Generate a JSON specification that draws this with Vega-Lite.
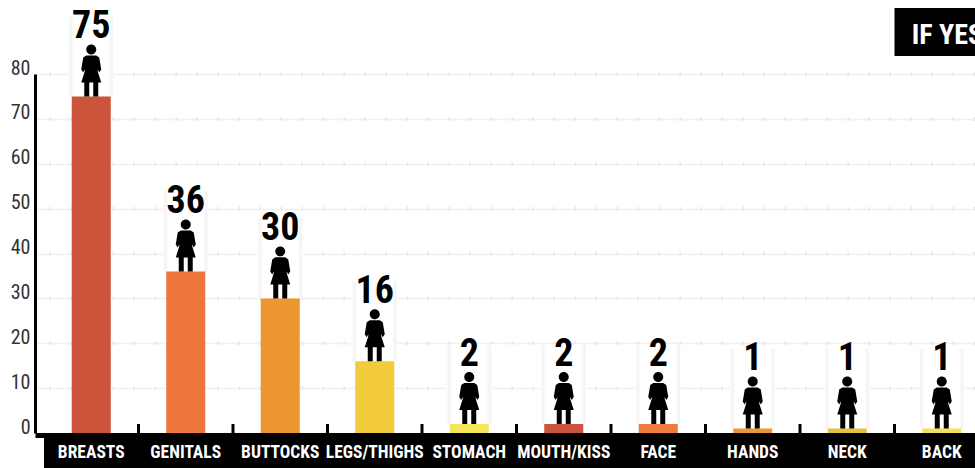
{
"$schema":"https://vega.github.io/schema/vega-lite/v6.json",
"width":940,"height":359,
"autosize":{"type":"none"},
"padding":{"left":35,"top":74,"right":0,"bottom":35},
"background":"white",
"view":{"stroke":null},
"config":{"font":"'Roboto Condensed','Open Sans Condensed','DejaVu Sans Condensed','Liberation Sans',sans-serif"},
"datasets":{
"rows":[
{"area":"BREASTS","count":75},
{"area":"GENITALS","count":36},
{"area":"BUTTOCKS","count":30},
{"area":"LEGS/THIGHS","count":16},
{"area":"STOMACH","count":2},
{"area":"MOUTH/KISS","count":2},
{"area":"FACE","count":2},
{"area":"HANDS","count":1},
{"area":"NECK","count":1},
{"area":"BACK","count":1}],
"grid":[{"count":10},{"count":20},{"count":30},{"count":40},{"count":50},{"count":60},{"count":70},{"count":80}]
},
"layer":[
{"data":{"name":"grid"},
 "mark":{"type":"rule","color":"#e8e8e8","strokeWidth":4,"strokeDash":[1.5,19.5]},
 "encoding":{"y":{"field":"count","type":"quantitative","scale":{"domain":[0,80],"nice":false},
  "axis":{"title":null,"values":[0,10,20,30,40,50,60,70,80],"grid":true,"gridColor":"#f0f0f0","gridWidth":1.5,"ticks":false,"domain":true,"domainColor":"black","domainWidth":3,"labelFontSize":20,"labelColor":"#333333","labelPadding":5,"labelBaseline":"alphabetic","labelFontWeight":"normal"}}}},
{"data":{"name":"rows"},
 "mark":{"type":"tick","orient":"horizontal","size":46,"thickness":80,"yOffset":-40,"fill":{"gradient":"linear","x1":0,"x2":1,"y1":0,"y2":0,"stops":[{"offset":0,"color":"#ffffff"},{"offset":0.05,"color":"#f3f3f3"},{"offset":0.13,"color":"#ffffff"},{"offset":0.87,"color":"#ffffff"},{"offset":0.95,"color":"#f3f3f3"},{"offset":1,"color":"#ffffff"}]},"opacity":1,"stroke":null},
 "encoding":{"x":{"field":"area","type":"nominal"},"y":{"field":"count","type":"quantitative"}}},
{"data":{"name":"rows"},
 "mark":{"type":"bar","width":{"band":0.413}},
 "encoding":{
  "x":{"field":"area","type":"nominal","scale":{"domain":["BREASTS","GENITALS","BUTTOCKS","LEGS/THIGHS","STOMACH","MOUTH/KISS","FACE","HANDS","NECK","BACK"],"range":[0,954],"paddingInner":0,"paddingOuter":0.0476,"align":1},
   "axis":{"title":null,"orient":"bottom","offset":2,"domain":true,"domainColor":"black","domainWidth":5,"ticks":false,"labelAngle":0,"labelAlign":"center","labelColor":"white","labelFontSize":17.5,"labelFontWeight":"bold","labelPadding":8,"labelBaseline":"top","labelLimit":120,"labelOverlap":false,"zindex":1}},
  "y":{"field":"count","type":"quantitative"},
  "color":{"field":"area","type":"nominal","legend":null,"scale":{"domain":["BREASTS","GENITALS","BUTTOCKS","LEGS/THIGHS","STOMACH","MOUTH/KISS","FACE","HANDS","NECK","BACK"],"range":["#CB543A","#EF763B","#ED9631","#F2CB3D","#F5E65A","#CC5540","#EF7B3D","#ED9631","#E3C23F","#F2DF5A"]}}}},
{"data":{"name":"rows"},
 "mark":{"type":"bar","color":"black","width":{"band":1}},
 "encoding":{"x":{"field":"area","type":"nominal"},"y":{"datum":0,"type":"quantitative"},"y2":{"datum":-7.8}}},
{"data":{"name":"rows"},
 "transform":[{"filter":"datum.area !== 'BACK'"}],
 "mark":{"type":"rule","color":"black","strokeWidth":3},
 "encoding":{"x":{"field":"area","type":"nominal","bandPosition":1},"y":{"datum":-7.8,"type":"quantitative"},"y2":{"datum":2}}},
{"data":{"name":"rows"},
 "mark":{"type":"point","filled":true,"color":"black","opacity":1,"size":2704,"strokeWidth":0,
  "shape":"M-0.192,-1.808C-0.192,-1.914 -0.106,-2 0,-2C0.106,-2 0.192,-1.914 0.192,-1.808C0.192,-1.702 0.106,-1.616 0,-1.616C-0.106,-1.616 -0.192,-1.702 -0.192,-1.808ZM-0.192,-1.577L0.192,-1.577L0.308,-1.5L0.385,-1.038L0.308,-0.923L0.25,-1.038L0.25,-0.962L0.385,-0.538L-0.385,-0.538L-0.25,-0.962L-0.25,-1.038L-0.308,-0.923L-0.385,-1.038L-0.308,-1.5ZM-0.269,-0.538L-0.077,-0.538L-0.077,0L-0.269,0ZM0.077,-0.538L0.269,-0.538L0.269,0L0.077,0Z"},
 "encoding":{"x":{"field":"area","type":"nominal"},"y":{"field":"count","type":"quantitative"}}},
{"data":{"name":"rows"},
 "mark":{"type":"text","color":"black","fontSize":38,"fontWeight":"bold","baseline":"alphabetic","dy":-58.5},
 "encoding":{"x":{"field":"area","type":"nominal"},"y":{"field":"count","type":"quantitative"},"text":{"field":"count","type":"quantitative"}}},
{"data":{"values":[{"area":"BACK","note":"IF YES"}]},
 "mark":{"type":"bar","color":"black","width":{"band":1}},
 "encoding":{"x":{"field":"area","type":"nominal"},"y":{"datum":84,"type":"quantitative"},"y2":{"datum":94.7}}},
{"data":{"values":[{"area":"BACK","note":"IF YES"}]},
 "mark":{"type":"text","color":"white","fontSize":28,"fontWeight":"bold","align":"left","baseline":"alphabetic","dx":-30},
 "encoding":{"x":{"field":"area","type":"nominal"},"y":{"datum":86.7,"type":"quantitative"},"text":{"field":"note"}}}
]
}
